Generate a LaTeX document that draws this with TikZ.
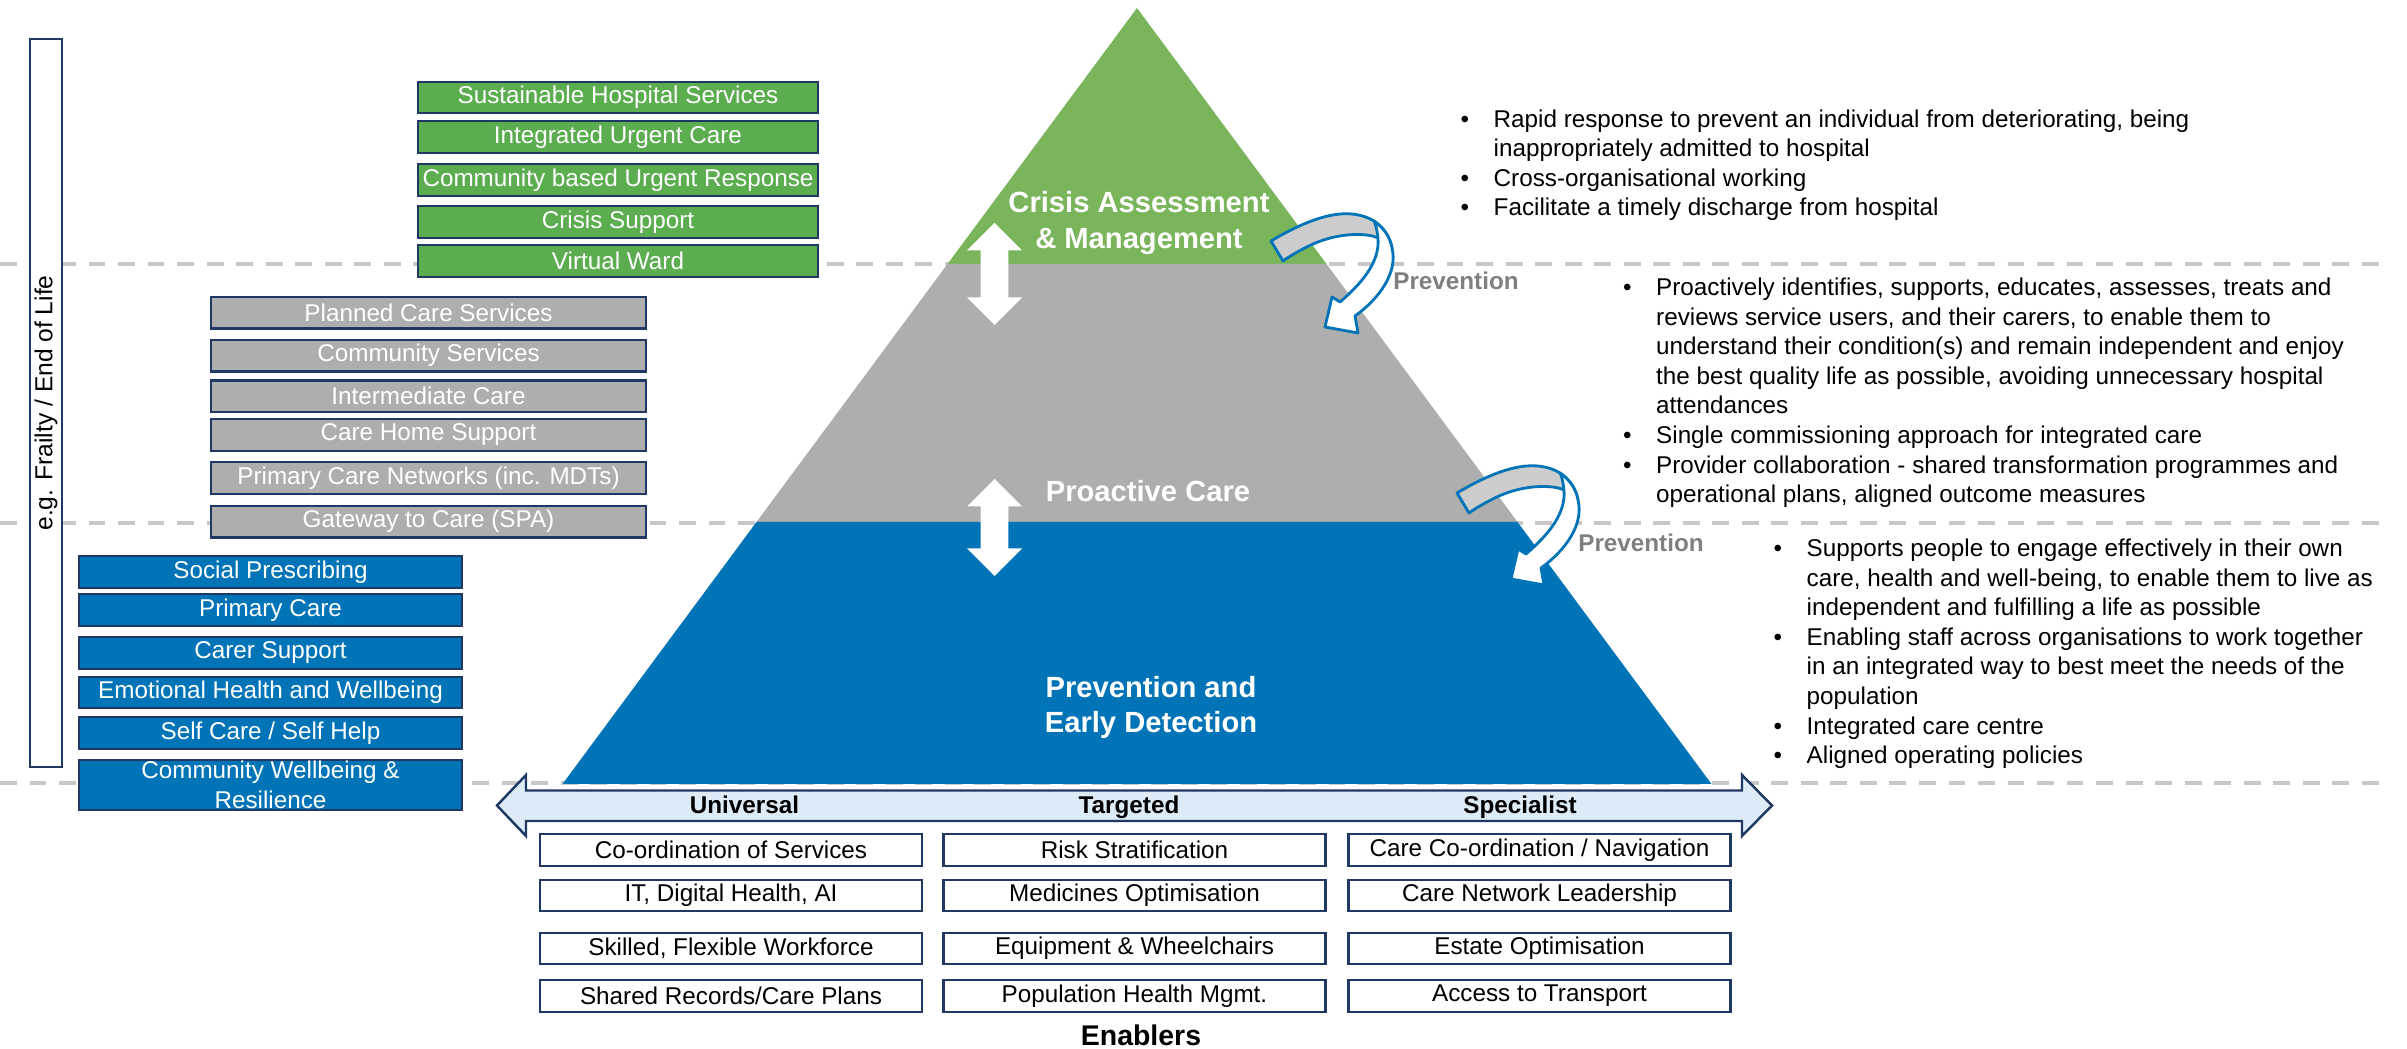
\documentclass[tikz,border=0pt]{standalone}
\usepackage{fontspec}
\setmainfont{Liberation Sans}
\usepackage{xcolor}
\usepackage{tikz}
\usetikzlibrary{positioning, calc}
\definecolor{tipgreen}{HTML}{7AB55C}
\definecolor{boxgreen}{HTML}{5BAD50}
\definecolor{midgray}{HTML}{AEAEAE}
\definecolor{baseblue}{HTML}{0174B7}
\definecolor{navyline}{HTML}{1F3864}
\definecolor{dashgray}{HTML}{C8C8C8}
\definecolor{ribbongray}{HTML}{CCCCCC}
\definecolor{lightband}{HTML}{DDEBF6}
\definecolor{labelgray}{HTML}{7F7F7F}
\newcommand{\bodysize}{\fontsize{6.9}{8.4}\selectfont}
\newcommand{\titlesize}{\fontsize{8.3}{10}\selectfont}
\newcommand{\pitem}{\makebox[0.33cm][l]{\textbullet}}
\newcommand{\pcont}{\hspace*{0.33cm}}

\begin{document}
\begin{tikzpicture}[
    service/.style={draw=navyline, line width=0.7pt, fill=#1, text=white, inner sep=0pt, minimum height=0.315cm, font=\bodysize, align=center},
    enabler/.style={draw=navyline, line width=0.7pt, fill=white, inner sep=0pt, minimum width=3.82cm, minimum height=0.315cm, font=\bodysize},
    layer/.style={text=white, inner sep=0pt, font=\titlesize\bfseries, align=center},
    divider/.style={dashgray, line width=1pt, dash pattern=on 4.8pt off 3.6pt},
    ribbon/.style={draw=baseblue, line width=0.8pt, line join=round, fill=#1},
    bullets/.style={anchor=north west, inner sep=0pt, font=\bodysize, align=left},
    tier/.style={anchor=base, inner sep=0pt, font=\bodysize\bfseries},
    prevlabel/.style={inner sep=0pt, font=\bodysize\bfseries, text=labelgray}
]

\useasboundingbox (0,0) rectangle (24.07,-10.49);

% Level dividers
\foreach \y in {-2.64,-5.23,-7.83}
    \draw[divider] (0,\y) -- (23.80,\y);

% Side bar
\node[draw=navyline, line width=0.7pt, fill=white, rotate=90, minimum width=7.28cm, minimum height=0.32cm, inner sep=0pt, font=\fontsize{7}{8.4}\selectfont] (frailty) at (0.46,-4.03) {e.g. Frailty / End of Life};

% Pyramid layers
\coordinate (apex) at (11.37,-0.08);
\coordinate (gl) at (9.475,-2.64);
\coordinate (gr) at (13.265,-2.64);
\coordinate (pl) at (7.565,-5.22);
\coordinate (pr) at (15.175,-5.22);
\coordinate (bl) at (5.625,-7.84);
\coordinate (br) at (17.115,-7.84);
\fill[tipgreen] (apex) -- (gr) -- (gl) -- cycle;
\fill[midgray] (gl) -- (gr) -- (pr) -- (pl) -- cycle;
\fill[baseblue] (pl) -- (pr) -- (br) -- (bl) -- cycle;

% Up/down arrows between layers
\foreach \ya/\yb in {-2.23/-3.25, -4.79/-5.76}
    \fill[white] (9.945,\ya) -- (10.22,{\ya-0.275}) -- (10.083,{\ya-0.275}) -- (10.083,{\yb+0.275}) -- (10.22,{\yb+0.275}) -- (9.945,\yb) -- (9.67,{\yb+0.275}) -- (9.807,{\yb+0.275}) -- (9.807,{\ya-0.275}) -- (9.67,{\ya-0.275}) -- cycle;

\node[layer] (crisis) at (11.39,-2.23) {Crisis Assessment\\\& Management};
\node[layer] (proactive) at (11.48,-4.91) {Proactive Care};
\node[layer] (prevention) at (11.51,-7.075) {Prevention and\\Early Detection};

% Curved prevention arrows
\foreach \sx/\sy in {0/0, 1.86/-2.52} {
  \begin{scope}[shift={(\sx,\sy)}]
    \draw[ribbon=ribbongray] (12.71,-2.41) .. controls (13.03,-2.22) and (13.30,-2.12) .. (13.52,-2.14) .. controls (13.62,-2.15) and (13.69,-2.18) .. (13.74,-2.21) .. controls (13.84,-2.28) and (13.90,-2.37) .. (13.92,-2.48) -- (13.78,-2.38) .. controls (13.68,-2.33) and (13.40,-2.32) .. (13.13,-2.44) .. controls (13.00,-2.50) and (12.90,-2.56) .. (12.83,-2.61) -- cycle;
    \draw[ribbon=white] (13.74,-2.21) .. controls (13.84,-2.28) and (13.90,-2.37) .. (13.92,-2.48) .. controls (13.98,-2.72) and (13.80,-2.98) .. (13.55,-3.16) -- (13.58,-3.33) -- (13.25,-3.27) -- (13.32,-2.97) -- (13.40,-3.02) .. controls (13.62,-2.83) and (13.80,-2.62) .. (13.78,-2.38) .. controls (13.77,-2.30) and (13.76,-2.25) .. (13.74,-2.21) -- cycle;
  \end{scope}
}
\node[prevlabel] (prevone) at (14.56,-2.805) {Prevention};
\node[prevlabel] (prevtwo) at (16.41,-5.433) {Prevention};

% Notes per layer
\node[bullets] (crisisnotes) at (14.60,-1.09) {\pitem Rapid response to prevent an individual from deteriorating, being\\\pcont inappropriately admitted to hospital\\\pitem Cross-organisational working\\\pitem Facilitate a timely discharge from hospital};
\node[bullets] (proactivenotes) at (16.225,-2.776) {\pitem Proactively identifies, supports, educates, assesses, treats and\\\pcont reviews service users, and their carers, to enable them to\\\pcont understand their condition(s) and remain independent and enjoy\\\pcont the best quality life as possible, avoiding unnecessary hospital\\\pcont attendances\\\pitem Single commissioning approach for integrated care\\\pitem Provider collaboration - shared transformation programmes and\\\pcont operational plans, aligned outcome measures};
\node[bullets] (preventnotes) at (17.73,-5.386) {\pitem Supports people to engage effectively in their own\\\pcont care, health and well-being, to enable them to live as\\\pcont independent and fulfilling a life as possible\\\pitem Enabling staff across organisations to work together\\\pcont in an integrated way to best meet the needs of the\\\pcont population\\\pitem Integrated care centre\\\pitem Aligned operating policies};

% Crisis services
\node[service=boxgreen, minimum width=4cm] (hospital) at (6.18,-0.975) {Sustainable Hospital Services};
\node[service=boxgreen, minimum width=4cm] (urgentcare) at (6.18,-1.37) {Integrated Urgent Care};
\node[service=boxgreen, minimum width=4cm] (urgentresp) at (6.18,-1.80) {Community based Urgent Response};
\node[service=boxgreen, minimum width=4cm] (crisissup) at (6.18,-2.22) {Crisis Support};
\node[service=boxgreen, minimum width=4cm] (vward) at (6.18,-2.61) {Virtual Ward};

% Proactive services
\node[service=midgray, minimum width=4.35cm] (planned) at (4.285,-3.126) {Planned Care Services};
\node[service=midgray, minimum width=4.35cm] (community) at (4.285,-3.557) {Community Services};
\node[service=midgray, minimum width=4.35cm] (intermediate) at (4.285,-3.963) {Intermediate Care};
\node[service=midgray, minimum width=4.35cm] (carehome) at (4.285,-4.35) {Care Home Support};
\node[service=midgray, minimum width=4.35cm] (pcn) at (4.285,-4.78) {Primary Care Networks (inc. MDTs)};
\node[service=midgray, minimum width=4.35cm] (gateway) at (4.285,-5.217) {Gateway to Care (SPA)};

% Prevention services
\node[service=baseblue, minimum width=3.83cm] (social) at (2.705,-5.72) {Social Prescribing};
\node[service=baseblue, minimum width=3.83cm] (primary) at (2.705,-6.10) {Primary Care};
\node[service=baseblue, minimum width=3.83cm] (carer) at (2.705,-6.53) {Carer Support};
\node[service=baseblue, minimum width=3.83cm] (emotional) at (2.705,-6.925) {Emotional Health and Wellbeing};
\node[service=baseblue, minimum width=3.83cm] (selfcare) at (2.705,-7.33) {Self Care / Self Help};
\node[service=baseblue, minimum width=3.83cm, minimum height=0.50cm] (wellbeing) at (2.705,-7.85) {Community Wellbeing \&\\Resilience};

% Universal to specialist band
\draw[navyline, line width=0.7pt, fill=lightband] (4.97,-8.055) -- (5.26,-7.75) -- (5.26,-7.905) -- (17.42,-7.905) -- (17.42,-7.75) -- (17.72,-8.055) -- (17.42,-8.36) -- (17.42,-8.21) -- (5.26,-8.21) -- (5.26,-8.36) -- cycle;
\node[tier] (universal) at (7.445,-8.133) {Universal};
\node[tier] (targeted) at (11.29,-8.133) {Targeted};
\node[tier] (specialist) at (15.20,-8.133) {Specialist};

% Enablers
\node[enabler] (coord) at (7.31,-8.50) {Co-ordination of Services};
\node[enabler] (digital) at (7.31,-8.955) {IT, Digital Health, AI};
\node[enabler] (workforce) at (7.31,-9.485) {Skilled, Flexible Workforce};
\node[enabler] (records) at (7.31,-9.96) {Shared Records/Care Plans};
\node[enabler] (risk) at (11.345,-8.50) {Risk Stratification};
\node[enabler] (medicines) at (11.345,-8.955) {Medicines Optimisation};
\node[enabler] (equipment) at (11.345,-9.485) {Equipment \& Wheelchairs};
\node[enabler] (pophealth) at (11.345,-9.96) {Population Health Mgmt.};
\node[enabler] (navigation) at (15.395,-8.50) {Care Co-ordination / Navigation};
\node[enabler] (leadership) at (15.395,-8.955) {Care Network Leadership};
\node[enabler] (estate) at (15.395,-9.485) {Estate Optimisation};
\node[enabler] (transport) at (15.395,-9.96) {Access to Transport};
\node[inner sep=0pt, font=\fontsize{8.1}{9.7}\selectfont\bfseries] (enablers) at (11.41,-10.353) {Enablers};

\end{tikzpicture}
\end{document}
